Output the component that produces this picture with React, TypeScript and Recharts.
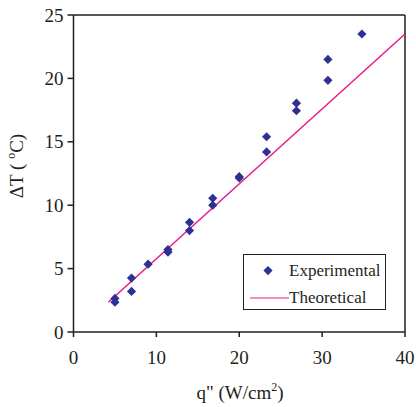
import React from 'react'
import { ScatterChart, Scatter, XAxis, YAxis, ReferenceLine } from 'recharts'

// experimental points, q" (W/cm2) vs dT (C)
const expQ = [5, 5, 7, 7, 9, 11.4, 11.4, 14, 14, 16.8, 16.8, 20, 20, 23.3, 23.3, 26.9, 26.9, 30.7, 30.7, 34.8]
const expDT = [2.65, 2.35, 4.25, 3.2, 5.35, 6.5, 6.3, 8.65, 8.0, 10.55, 10.0, 12.25, 12.15, 15.4, 14.2, 18.05, 17.45, 21.5, 19.85, 23.5]

// theoretical line ends
const theoQ = [4.2, 40]
const theoDT = [2.35, 23.5]

const xTicks = [0, 10, 20, 30, 40]
const yTicks = [0, 5, 10, 15, 20, 25]

const expData = expQ.map((q, i) => ({ q, dt: expDT[i] }))
const theoData = theoQ.map((q, i) => ({ q, dt: theoDT[i] }))

const NAVY = '#2e3192'
const PINK = '#e8198b'
const AXIS = '#231f20'
const FONT = "'Liberation Serif', 'Times New Roman', serif"
const serif = { fontFamily: FONT }

const Diamond = (props: any) => {
  const { cx, cy } = props
  if (cx == null || cy == null) return null
  const r = 4.6
  return <polygon points={`${cx},${cy - r} ${cx + r},${cy} ${cx},${cy + r} ${cx - r},${cy}`} fill={NAVY} />
}

const NoDot = () => null

const LegendBox = () => (
  <div style={{ position: 'absolute', left: 243, top: 254, border: `1px solid ${AXIS}`, width: 143, height: 56, boxSizing: 'border-box', background: '#fff' }}>
    <svg width={141} height={54} style={{ display: 'block' }}>
      <polygon points="24,11 28.6,15.6 24,20.2 19.4,15.6" fill={NAVY} />
      <text x={45} y={21} fontSize={17} style={serif} fill={AXIS}>Experimental</text>
      <line x1={6} y1={43} x2={45} y2={43} stroke={PINK} strokeWidth={1.2} />
      <text x={45} y={48} fontSize={17} style={serif} fill={AXIS}>Theoretical</text>
    </svg>
  </div>
)

const XTick = (props: any) => {
  const { x, y, payload } = props
  return (
    <text x={x} y={y + 13} textAnchor="middle" fontSize={19} style={serif} fill={AXIS}>{payload.value}</text>
  )
}

const YTick = (props: any) => {
  const { x, y, payload } = props
  return (
    <text x={x} y={y + 6.5} textAnchor="end" fontSize={19} style={serif} fill={AXIS}>{payload.value}</text>
  )
}

const YLabel = () => (
  <text transform="translate(23,166) rotate(-90)" textAnchor="middle" fontSize={19} style={serif} fill={AXIS}>
    ΔT ( <tspan fontSize={12} dy={-8}>o</tspan><tspan dy={8}>C)</tspan>
  </text>
)

const XLabel = () => (
  <text x={240} y={399} textAnchor="middle" fontSize={19} style={serif} fill={AXIS}>
    q" (W/cm<tspan fontSize={12} dy={-8}>2</tspan><tspan dy={8}>)</tspan>
  </text>
)

export default function App() {
  return (
    <div style={{ position: 'absolute', left: 0, top: 0, width: 416, height: 407, background: '#fff', fontFamily: FONT }}>
      <ScatterChart width={416} height={407} margin={{ top: 15, right: 11, bottom: 0, left: 0 }}>
        <XAxis
          type="number"
          dataKey="q"
          domain={[0, 40]}
          ticks={xTicks}
          height={75}
          tickSize={5}
          stroke={AXIS}
          strokeWidth={1.5}
          tick={<XTick />}
          tickMargin={14}
          label={<XLabel />}
        />
        <YAxis
          type="number"
          dataKey="dt"
          domain={[0, 25]}
          ticks={yTicks}
          width={73.5}
          tickSize={6}
          stroke={AXIS}
          strokeWidth={1.5}
          tick={<YTick />}
          tickMargin={4}
          label={<YLabel />}
        />
        <ReferenceLine y={25} stroke={AXIS} strokeWidth={1.5} />
        <ReferenceLine x={40} stroke={AXIS} strokeWidth={1.5} />
        <Scatter data={theoData} line={{ stroke: PINK, strokeWidth: 1.5 }} shape={<NoDot />} isAnimationActive={false} />
        <Scatter data={expData} shape={<Diamond />} isAnimationActive={false} />
      </ScatterChart>
      <LegendBox />
    </div>
  )
}
